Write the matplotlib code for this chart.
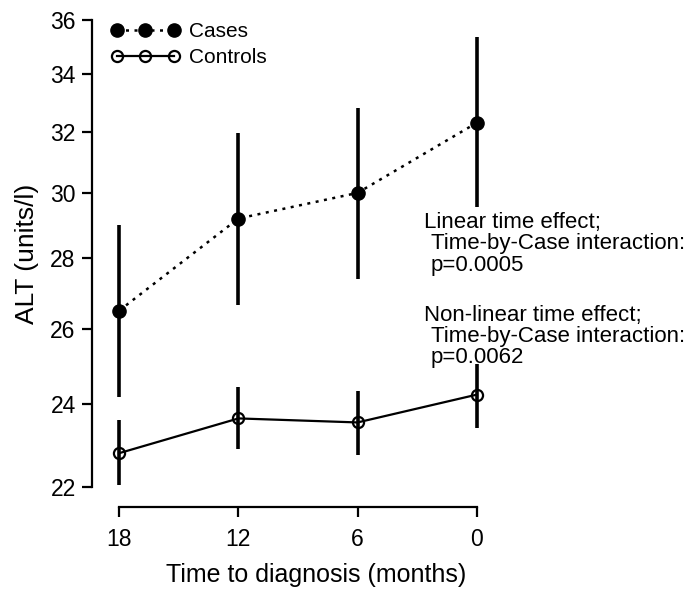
import matplotlib

matplotlib.use("Agg")
import matplotlib.pyplot as plt
from matplotlib.ticker import NullLocator

# ALT by time to diagnosis
months = ["18", "12", "6", "0"]
cases_mean = [26.5, 29.2, 30.0, 32.3]
cases_low = [24.2, 26.65, 27.4, 29.55]
cases_high = [29.0, 31.95, 32.8, 35.35]
ctrl_mean = [22.8, 23.65, 23.55, 24.25]
ctrl_low = [22.05, 22.9, 22.75, 23.4]
ctrl_high = [23.6, 24.45, 24.35, 25.05]
yticks = [22, 24, 26, 28, 30, 32, 34, 36]

notes = [
    ["Linear time effect;", "Time-by-Case interaction:", "p=0.0005"],
    ["Non-linear time effect;", "Time-by-Case interaction:", "p=0.0062"],
]


def main() -> int:
    plt.rcParams["font.family"] = ["Liberation Sans", "DejaVu Sans"]

    W, H = 700, 596
    fig = plt.figure(figsize=(W / 100, H / 100), dpi=100)
    ax = fig.add_axes([92.3 / W, 1 - 487 / H, (488.6 - 92.3) / W, (487 - 20) / H])

    x = list(range(len(months)))

    # error bars, no caps
    ax.vlines(x, cases_low, cases_high, colors="black", lw=2.6, zorder=2)
    ax.vlines(x, ctrl_low, ctrl_high, colors="black", lw=2.6, zorder=2)

    ax.plot(x, cases_mean, color="black", ls=(0, (1.2, 2.2)), lw=1.8,
            marker="o", ms=9.5, mfc="black", mec="black", label="Cases", zorder=3)
    ax.plot(x, ctrl_mean, color="black", ls="-", lw=1.6,
            marker="o", ms=8, mfc="none", mec="black", mew=1.6, label="Controls", zorder=3)

    ax.set_yscale("log")
    ax.set_ylim(22, 36)
    ax.set_yticks(yticks)
    ax.set_yticklabels([str(v) for v in yticks])
    ax.yaxis.set_minor_locator(NullLocator())
    ax.set_xlim(-0.2266, 3.1)
    ax.set_xticks(x)
    ax.set_xticklabels(months)

    for side in ["top", "right"]:
        ax.spines[side].set_visible(False)
    ax.spines["left"].set_bounds(22, 36)
    ax.spines["bottom"].set_bounds(0, 3)
    ax.spines["bottom"].set_position(("outward", 14.4))
    for side in ["left", "bottom"]:
        ax.spines[side].set_linewidth(1.6)

    ax.tick_params(axis="both", length=7, width=1.6, labelsize=16.5)
    ax.tick_params(axis="x", pad=8)
    ax.tick_params(axis="y", pad=5)

    ax.set_ylabel("ALT (units/l)", fontsize=19, labelpad=8)
    ax.set_xlabel("Time to diagnosis (months)", fontsize=18)
    ax.xaxis.set_label_coords(316 / W, 1 - 563 / H, transform=fig.transFigure)

    ax.legend(loc="upper left", bbox_to_anchor=(111 / W, 1 - 22 / H),
              bbox_transform=fig.transFigure, frameon=False, fontsize=15,
              numpoints=3, handlelength=3.3, handletextpad=0.45,
              labelspacing=0.34, borderpad=0, borderaxespad=0, markerscale=1.0)

    # statistics notes
    for top, block in zip([222, 315], notes):
        for i, line in enumerate(block):
            xpos = 423.5 if i == 0 else 431
            fig.text(xpos / W, 1 - (top + 21.5 * i) / H, line, fontsize=16,
                     ha="left", va="center")

    fig.savefig("out.png", dpi=100)
    plt.close(fig)
    return 0


if __name__ == "__main__":
    raise SystemExit(main())
